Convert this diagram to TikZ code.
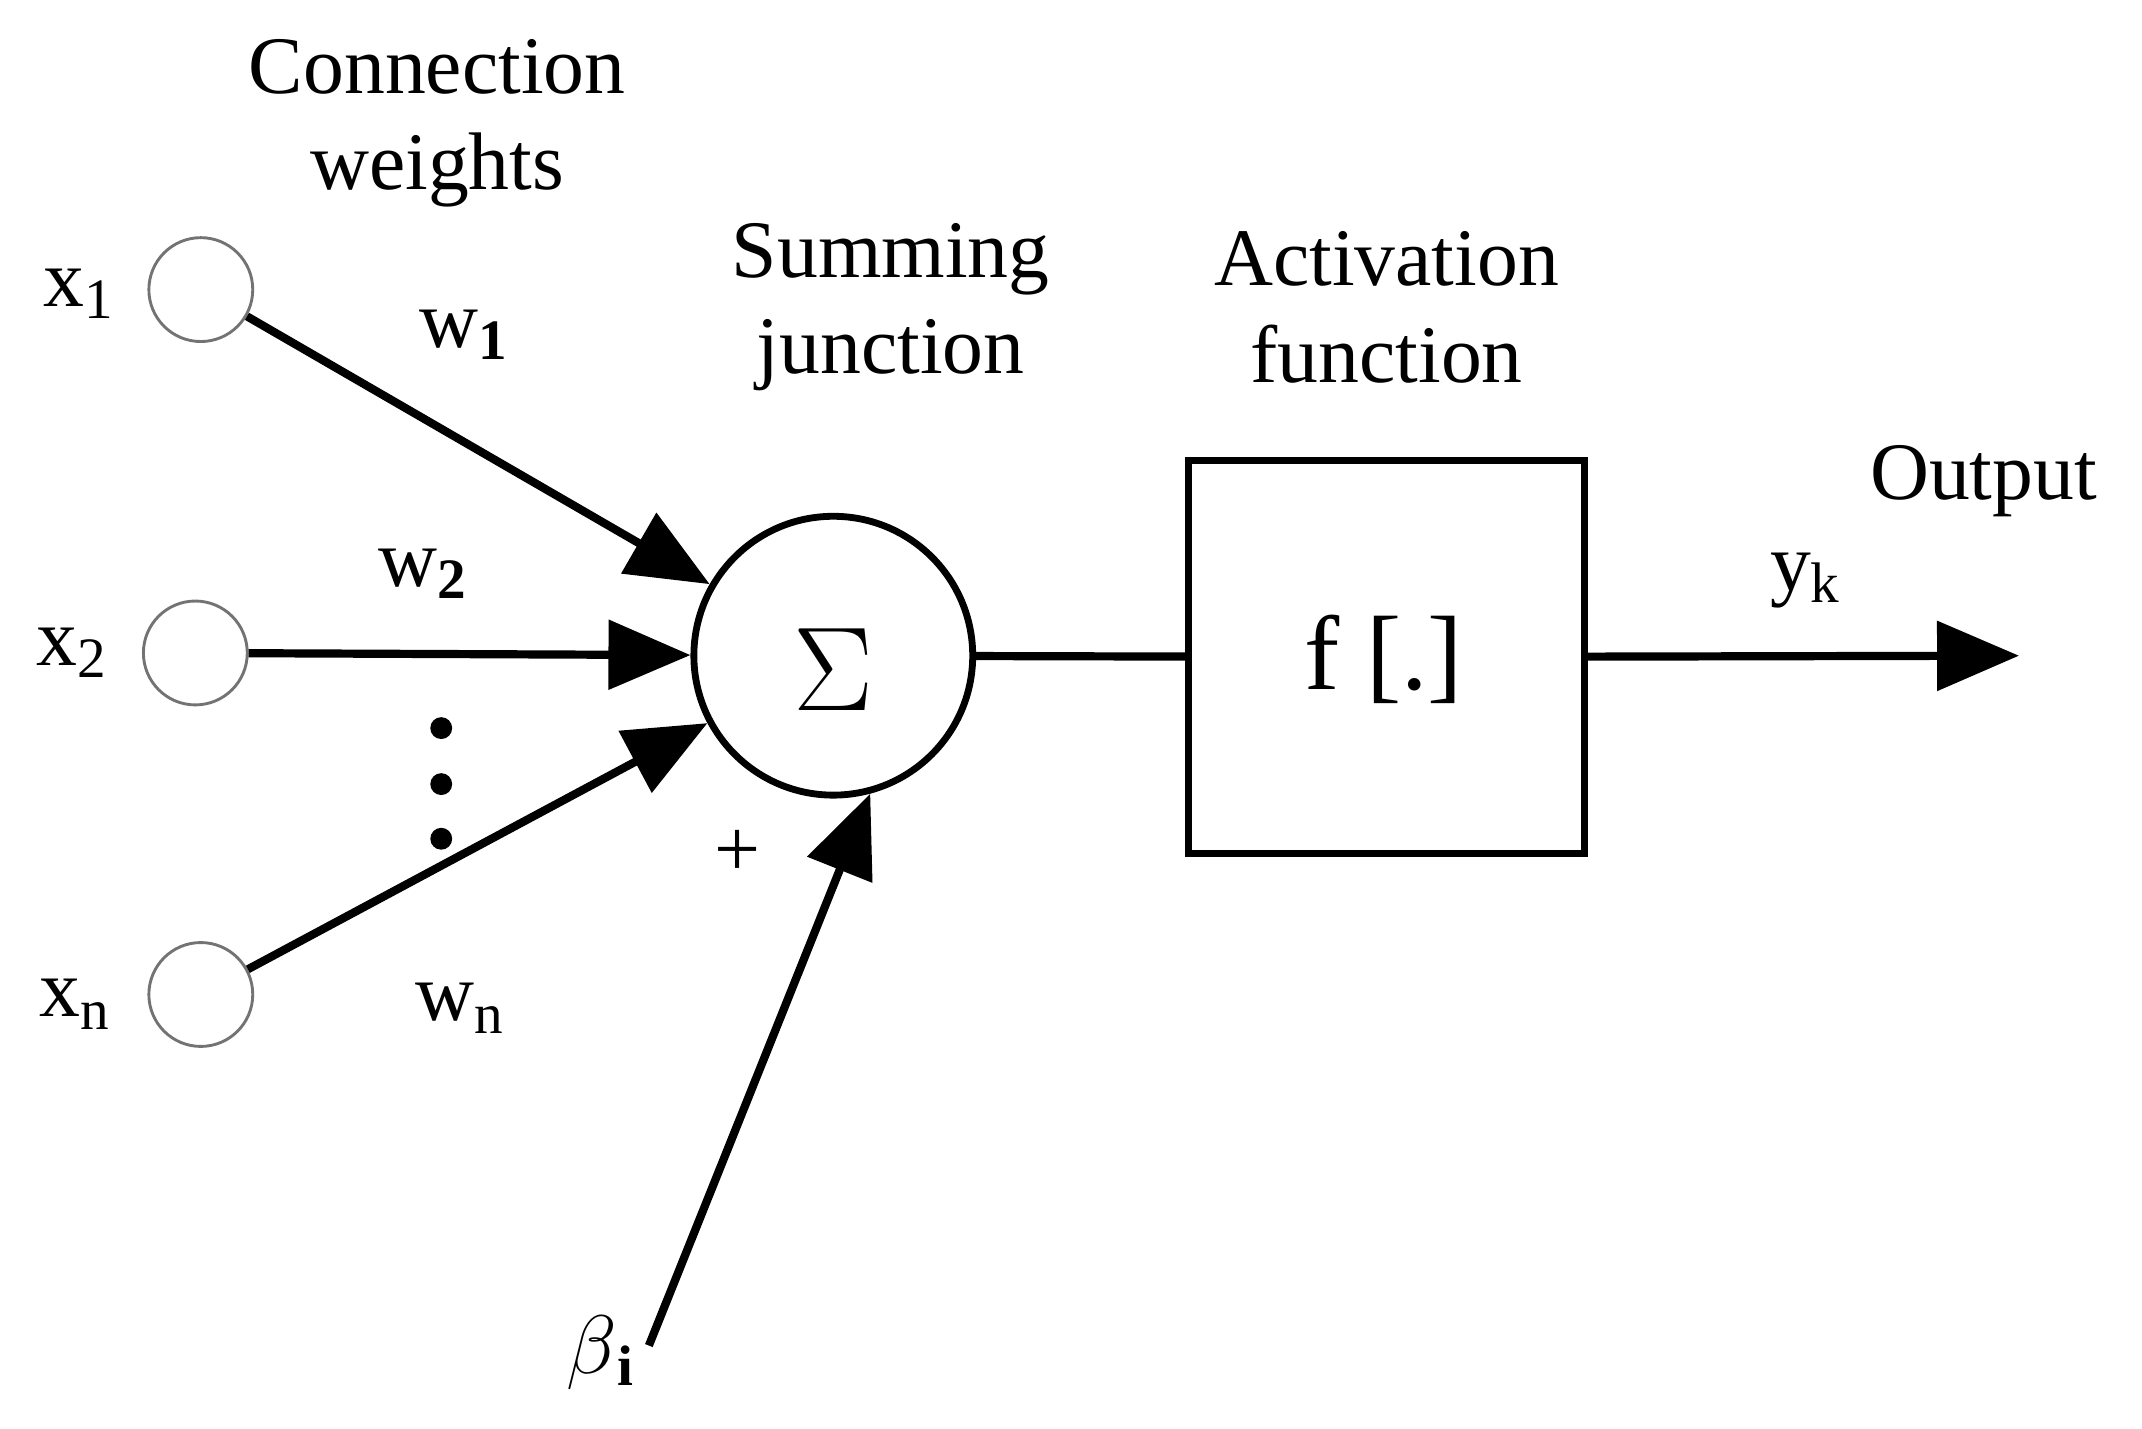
\documentclass[tikz,border=0pt]{standalone}
\usepackage{fontspec}
\setmainfont{Liberation Serif}
\usetikzlibrary{arrows.meta}
\begin{document}
\begin{tikzpicture}[x=0.01cm,y=-0.01cm,
  lbl/.style={font=\fontsize{17}{20}\selectfont, align=center, inner sep=0pt},
  inp/.style={circle, draw=black!55, line width=0.6pt, minimum size=0.76cm, inner sep=0pt, fill=white},
  con/.style={line width=0.06cm, -{Triangle[length=0.6cm,width=0.5cm]}},
  plain/.style={line width=0.06cm}]
\useasboundingbox (0,0) rectangle (1568,1046);
\node[inp] (x1) at (147,212) {};
\node[inp] (x2) at (143,478) {};
\node[inp] (xn) at (147,728) {};
\node[circle, draw, line width=0.05cm, minimum size=2.04cm, inner sep=0pt] (sum) at (610,480) {};
\node[lbl, font=\fontsize{26}{30}\selectfont] at (610,490) {$\Sigma$};
\node[draw, line width=0.05cm, minimum width=2.9cm, minimum height=2.88cm] (box) at (1015,481) {};
\node[lbl, font=\fontsize{22}{26}\selectfont] at (1013,483) {f [.]};
\coordinate (out) at (1478,480);
\coordinate (b) at (475,985);
\draw[con] (x1) -- (sum);
\draw[con] (x2) -- (sum);
\draw[con] (xn) -- (sum);
\draw[con] (b) -- (sum.-75);
\draw[plain] (sum) -- (box);
\draw[con] (box) -- (out);
\node[lbl] at (58,215) {x\textsubscript{1}};
\node[lbl] at (53,478) {x\textsubscript{2}};
\node[lbl] at (55,735) {x\textsubscript{n}};
\node[lbl] at (340,245) {w\textsubscript{\textbf{1}}};
\node[lbl] at (310,420) {w\textsubscript{\textbf{2}}};
\node[lbl] at (337,738) {w\textsubscript{n}};
\node[lbl] at (440,990) {$\beta$\textsubscript{\textbf{i}}};
\node[lbl] at (540,625) {+};
\foreach \yy [count=\i] in {533,574,614} \fill (323,\yy) circle (0.08cm) coordinate (d\i);
\node[lbl] at (320,90) {Connection\\weights};
\node[lbl] at (652,225) {Summing\\junction};
\node[lbl] at (1015,225) {Activation\\function};
\node[lbl] at (1452,352) {Output};
\node[lbl] at (1322,425) {y\textsubscript{k}};
\end{tikzpicture}
\end{document}
